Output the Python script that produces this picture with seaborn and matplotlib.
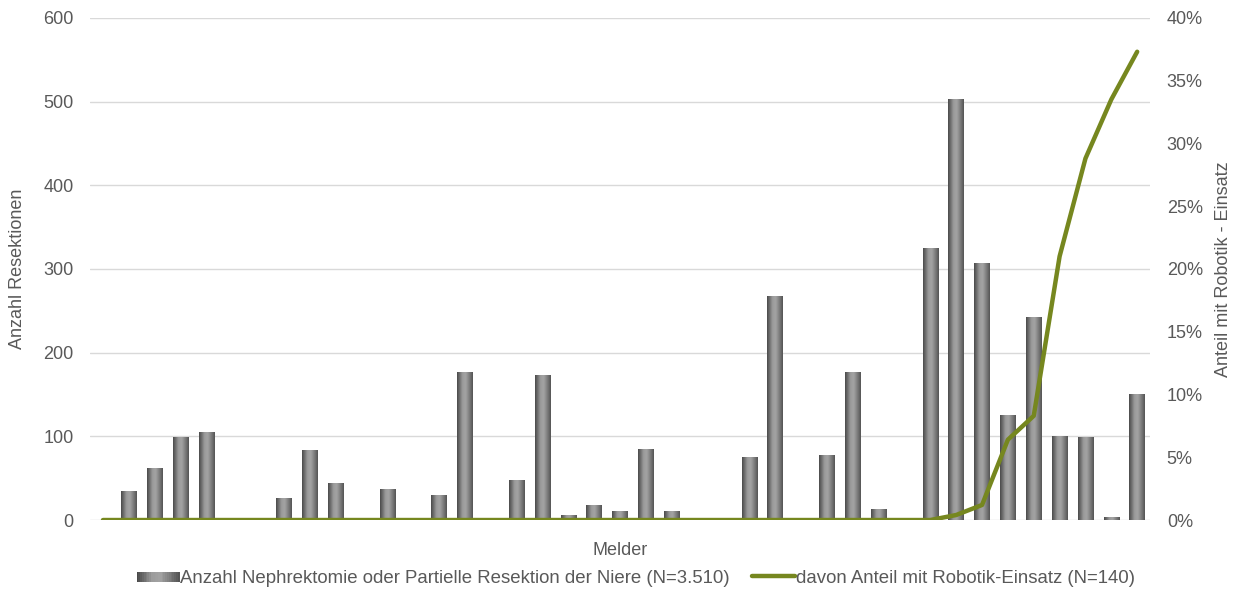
import numpy as np
import pandas as pd
import matplotlib
matplotlib.use("Agg")
import matplotlib.pyplot as plt
import seaborn as sns
from matplotlib.colors import LinearSegmentedColormap
from matplotlib.patches import Rectangle
from matplotlib.lines import Line2D
from matplotlib.legend_handler import HandlerBase
from matplotlib.ticker import PercentFormatter, MultipleLocator

# Data: resections per reporting unit and share of robot-assisted procedures
melder = [f"M{i + 1:02d}" for i in range(41)]
resektionen = [0, 34, 61, 98, 104, 0, 0, 26, 83, 44, 2, 37, 0, 29, 176, 0,
               47, 173, 5, 17, 10, 84, 10, 0, 0, 75, 267, 0, 77, 176, 12, 0,
               324, 503, 306, 125, 242, 100, 98, 3, 150]
robotik_anteil = [0] * 33 + [0.4, 1.2, 6.4, 8.3, 21.0, 28.8, 33.5, 37.3]

bar_label = "Anzahl Nephrektomie oder Partielle Resektion der Niere (N=3.510)"
line_label = "davon Anteil mit Robotik-Einsatz (N=140)"

TEXT = "#595959"
GREEN = "#76871f"
GRID = "#d9d9d9"

sns.set_theme(style="white")
plt.rcParams["font.family"] = ["Liberation Sans", "DejaVu Sans"]
plt.rcParams["text.color"] = TEXT
plt.rcParams["axes.labelcolor"] = TEXT
plt.rcParams["xtick.color"] = TEXT
plt.rcParams["ytick.color"] = TEXT

cyl = LinearSegmentedColormap.from_list(
    "cyl", [(0.0, "#4a4a4a"), (0.35, "#9c9c9c"), (0.55, "#a3a3a3"),
            (0.8, "#7a7a7a"), (1.0, "#555555")])

fig = plt.figure(figsize=(12.42, 5.95), dpi=100)
ax = fig.add_axes([0.0725, 0.126, 0.8535, 0.844])

df = pd.DataFrame({"Melder": melder, "Resektionen": resektionen})
sns.barplot(data=df, x="Melder", y="Resektionen", ax=ax, color="#8c8c8c",
            width=0.6, saturation=1, zorder=2)

# cylinder-like shading on every bar
grad = np.linspace(0, 1, 64).reshape(1, -1)
for p in list(ax.patches):
    h = p.get_height()
    x0 = p.get_x()
    w = p.get_width()
    if h > 0:
        ax.imshow(grad, extent=[x0, x0 + w, 0, h], aspect="auto", cmap=cyl,
                  zorder=2.5, interpolation="bilinear")
    p.set_facecolor("none")
    p.set_edgecolor("none")

ax.set_xlim(-0.5, len(melder) - 0.5)
ax.set_ylim(0, 600)
ax.yaxis.set_major_locator(MultipleLocator(100))
ax.set_axisbelow(True)
ax.yaxis.grid(True, color=GRID, lw=1)
ax.xaxis.grid(False)
ax.set_xticks([])
for s in ax.spines.values():
    s.set_visible(False)
ax.tick_params(axis="y", length=0, pad=12, labelsize=13)
ax.set_xlabel("Melder", fontsize=13, labelpad=16)
ax.set_ylabel("Anzahl Resektionen", fontsize=13)
ax.yaxis.set_label_coords(-0.06, 0.5)

ax2 = ax.twinx()
sns.lineplot(x=np.arange(len(melder)), y=robotik_anteil, ax=ax2,
             color=GREEN, lw=3.2, zorder=3)
ax2.set_ylim(0, 40)
ax2.set_xlim(-0.5, len(melder) - 0.5)
ax2.yaxis.set_major_locator(MultipleLocator(5))
ax2.yaxis.set_major_formatter(PercentFormatter(decimals=0))
for s in ax2.spines.values():
    s.set_visible(False)
ax2.tick_params(axis="y", length=0, pad=12, labelsize=13)
ax2.set_ylabel("Anteil mit Robotik - Einsatz", fontsize=13, rotation=90)
ax2.yaxis.set_label_coords(1.061, 0.5)


class GradientHandler(HandlerBase):
    def create_artists(self, legend, orig_handle, xdescent, ydescent,
                       width, height, fontsize, trans):
        n = 24
        arts = []
        for i in range(n):
            r = Rectangle((-xdescent + width * i / n, -ydescent + height * 0.05),
                          width / n + 0.3, height * 0.8,
                          facecolor=cyl(i / (n - 1)), edgecolor="none",
                          transform=trans)
            arts.append(r)
        return arts


bar_handle = Rectangle((0, 0), 1, 1, facecolor="#8c8c8c")
line_handle = Line2D([0], [0], color=GREEN, lw=3.2)
fig.legend([bar_handle, line_handle], [bar_label, line_label],
           handler_map={Rectangle: GradientHandler()},
           loc="center", bbox_to_anchor=(0.512, 0.028), ncol=2, frameon=False,
           fontsize=13.4, handlelength=2.3, handletextpad=0.05,
           columnspacing=1.2, labelcolor=TEXT)

fig.savefig("out.png", dpi=100)
